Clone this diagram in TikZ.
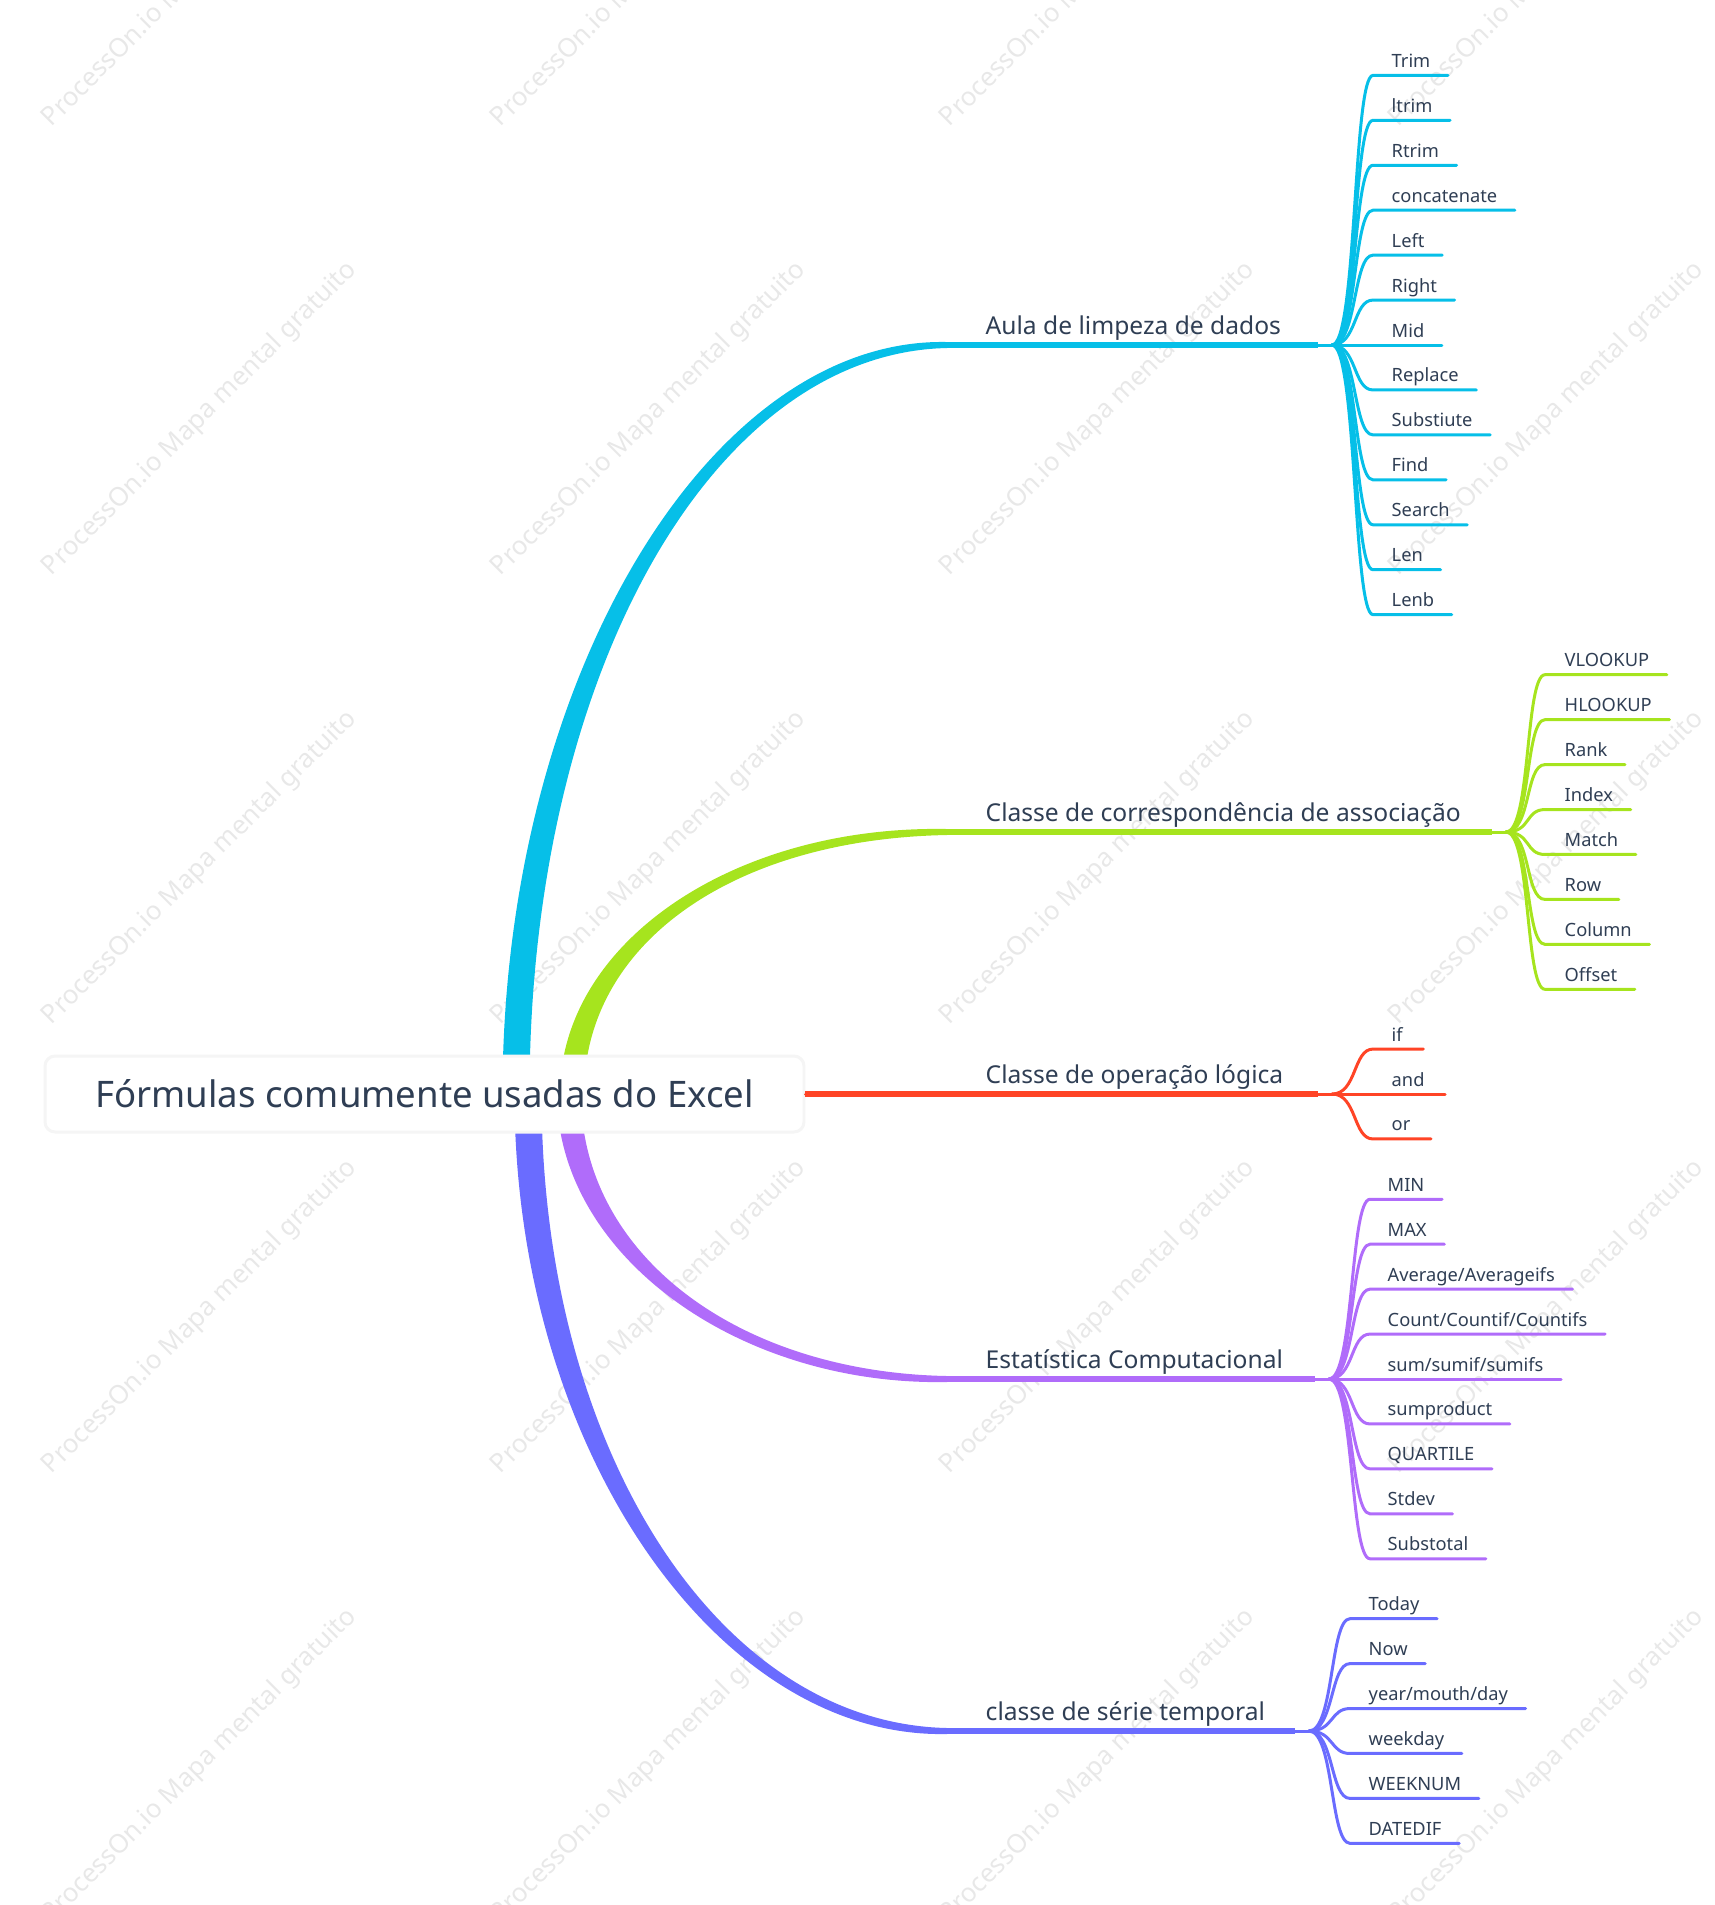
\documentclass[tikz,border=0pt]{standalone}
\usepackage{fontspec}
\setmainfont{Noto Sans}
\usetikzlibrary{calc,backgrounds}

\definecolor{ink}{RGB}{47,62,84}
\definecolor{cyanc}{RGB}{6,191,232}
\definecolor{greenc}{RGB}{166,228,30}
\definecolor{redc}{RGB}{255,68,38}
\definecolor{purplec}{RGB}{176,108,250}
\definecolor{bluec}{RGB}{106,108,255}
\definecolor{wm}{RGB}{232,232,232}

\tikzset{
  leaf/.style={inner sep=0pt, anchor=base west, text=ink, font=\fontsize{5.2}{6}\selectfont},
  limb/.style={inner sep=0pt, anchor=base west, text=ink, font=\fontsize{7.0}{8}\selectfont},
  twig/.style={line width=0.3mm, line cap=round},
  bough/.style={line width=0.6mm},
  wmark/.style={text=wm, rotate=45, font=\fontsize{7.4}{9}\selectfont},
}

\begin{document}
\begin{tikzpicture}[x=0.1mm, y=-0.1mm]
  \useasboundingbox (0,0) rectangle (1715,1905);

  \node[fill=white, draw=black!4, line width=0.3mm, rounded corners=1mm,
        minimum width=75.9mm, minimum height=7.6mm, inner sep=0pt,
        text=ink, font=\fontsize{10.4}{12}\selectfont] (root) at (424.5,1094)
        {Fórmulas comumente usadas do Excel};

  % feet of the trunks (behind the box), knees and fans
  \coordinate (ra) at ($(root.center)+(91.5,0)$);
  \coordinate (rb) at ($(root.center)+(147.5,0)$);
  \coordinate (rd) at ($(root.center)+(144.5,0)$);
  \coordinate (re) at ($(root.center)+(103.5,0)$);
  \coordinate (ka) at (947,345);
  \coordinate (kb) at (947,832);
  \coordinate (kd) at (947,1379);
  \coordinate (ke) at (947,1731);
  \coordinate (fa) at (1332,345);
  \coordinate (fb) at (1506,832);
  \coordinate (fc) at (1332,1094);
  \coordinate (fd) at (1329,1379);
  \coordinate (fe) at (1309,1731);

  \begin{pgfonlayer}{background}
    \foreach \i in {0,...,3}{
      \foreach \j in {0,...,5}{
        \node[wmark] (wm-\i-\j) at ({200+449*\i},{-30+449*\j}) {ProcessOn.io Mapa mental gratuito};
      }
    }
    \fill[cyanc] ($(ra)+(-13.5,0)$) .. controls ($(ra)+(-13.5,-413)$) and ($(ka)+(-238,-8)$) .. ($(ka)+(0,-3)$)
      -- ($(ka)+(0,3)$) .. controls ($(ka)+(-238,8)$) and ($(ra)+(13.5,-413)$) .. ($(ra)+(13.5,0)$) -- cycle;
    \fill[greenc] ($(rb)+(-12,0)$) .. controls ($(rb)+(-12,-150)$) and ($(kb)+(-215,-7)$) .. ($(kb)+(0,-3)$)
      -- ($(kb)+(0,3)$) .. controls ($(kb)+(-215,7)$) and ($(rb)+(12,-150)$) .. ($(rb)+(12,0)$) -- cycle;
    \fill[purplec] ($(rd)+(-12,0)$) .. controls ($(rd)+(-12,160)$) and ($(kd)+(-210,7)$) .. ($(kd)+(0,3)$)
      -- ($(kd)+(0,-3)$) .. controls ($(kd)+(-210,-7)$) and ($(rd)+(12,160)$) .. ($(rd)+(12,0)$) -- cycle;
    \fill[bluec] ($(re)+(-13.5,0)$) .. controls ($(re)+(-13.5,352)$) and ($(ke)+(-231,8)$) .. ($(ke)+(0,3)$)
      -- ($(ke)+(0,-3)$) .. controls ($(ke)+(-231,-8)$) and ($(re)+(13.5,352)$) .. ($(re)+(13.5,0)$) -- cycle;
  \end{pgfonlayer}

  % branches
  \node[limb] (aula) at ($(ka)+(38,-11)$) {Aula de limpeza de dados};
  \node[limb] (assoc) at ($(kb)+(38,-11)$) {Classe de correspondência de associação};
  \node[limb] (logic) at (985,1083) {Classe de operação lógica};
  \node[limb] (estat) at ($(kd)+(38,-11)$) {Estatística Computacional};
  \node[limb] (tempo) at ($(ke)+(38,-11)$) {classe de série temporal};

  \draw[twig, cyanc] (ka) -- (fa);
  \draw[bough, cyanc] (ka) -- ($(fa)+(-14,0)$);
  \draw[twig, greenc] (kb) -- (fb);
  \draw[bough, greenc] (kb) -- ($(fb)+(-14,0)$);
  \draw[twig, redc] (root.east) -- (fc);
  \draw[line width=0.55mm, redc] (root.east) -- ($(fc)+(-14,0)$);
  \draw[twig, purplec] (kd) -- (fd);
  \draw[line width=0.55mm, purplec] (kd) -- ($(fd)+(-14,0)$);
  \draw[twig, bluec] (ke) -- (fe);
  \draw[bough, bluec] (ke) -- ($(fe)+(-14,0)$);

  % leaves
  \foreach \t [count=\i from 0] in {Trim,ltrim,Rtrim,concatenate,Left,Right,Mid,Replace,Substiute,Find,Search,Len,Lenb}{
    \node[leaf] (a\i) at ($(fa)+(59,{(\i-6)*44.94-8})$) {\t};
    \draw[twig, cyanc] (fa) .. controls +(25,0) and +(-20,0) .. ($(a\i.base west)+(-18,8)$) -- ($(a\i.base east)+(17,8)$);
  }
  \foreach \t [count=\i from 0] in {VLOOKUP,HLOOKUP,Rank,Index,Match,Row,Column,Offset}{
    \node[leaf] (b\i) at ($(fb)+(58,{(\i-3.5)*44.94-8})$) {\t};
    \draw[twig, greenc] (fb) .. controls +(25,0) and +(-20,0) .. ($(b\i.base west)+(-19,8)$) -- ($(b\i.base east)+(17,8)$);
  }
  \foreach \t [count=\i from 0] in {if,and,or}{
    \node[leaf] (c\i) at ($(fc)+(59,{(\i-1)*44.94-8})$) {\t};
    \draw[twig, redc] (fc) .. controls +(25,0) and +(-20,0) .. ($(c\i.base west)+(-18,8)$) -- ($(c\i.base east)+(20,8)$);
  }
  \foreach \t [count=\i from 0] in {MIN,MAX,Average/Averageifs,Count/Countif/Countifs,sum/sumif/sumifs,sumproduct,QUARTILE,Stdev,Substotal}{
    \node[leaf] (d\i) at ($(fd)+(58,{(\i-4)*44.94-8})$) {\t};
    \draw[twig, purplec] (fd) .. controls +(25,0) and +(-20,0) .. ($(d\i.base west)+(-17,8)$) -- ($(d\i.base east)+(17,8)$);
  }
  \foreach \t [count=\i from 0] in {Today,Now,year/mouth/day,weekday,WEEKNUM,DATEDIF}{
    \node[leaf] (e\i) at ($(fe)+(59,{(\i-2.5)*44.94-8})$) {\t};
    \draw[twig, bluec] (fe) .. controls +(25,0) and +(-20,0) .. ($(e\i.base west)+(-18,8)$) -- ($(e\i.base east)+(17,8)$);
  }
\end{tikzpicture}
\end{document}
